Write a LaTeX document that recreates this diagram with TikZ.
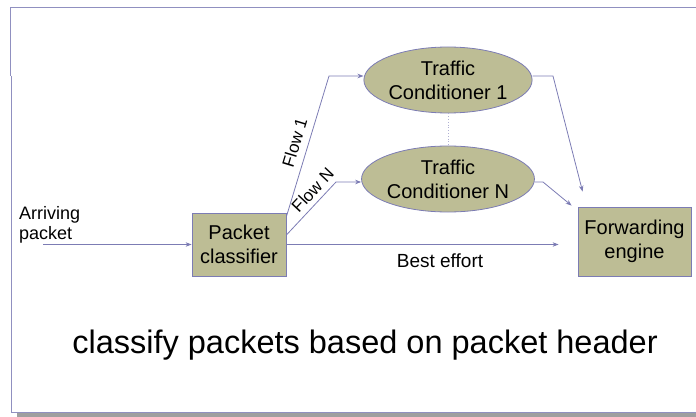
\documentclass[tikz,border=0pt]{standalone}
\usepackage{fontspec}
\setmainfont{Liberation Sans}
\usetikzlibrary{arrows.meta, shapes.geometric}
\definecolor{frame-blue}{HTML}{9090C0}
\definecolor{line-blue}{HTML}{7C7CB4}
\definecolor{box-olive}{HTML}{BDBD95}

\begin{document}
\begin{tikzpicture}[x=1pt, y=-1pt,
        every node/.style={font=\fontsize{20}{24}\selectfont, align=center, inner sep=0pt, text=black},
        block/.style={draw=line-blue, fill=box-olive, thick, minimum width=94pt, minimum height=63pt},
        cond/.style={ellipse, draw=line-blue, fill=box-olive, thick, minimum width=162pt, minimum height=66pt},
        flow/.style={line-blue, thick, -{Stealth[length=6pt, width=4.5pt]}},
        flowlabel/.style={sloped, font=\fontsize{17}{20}\selectfont}]
      \useasboundingbox (0,0) rectangle (696,417);
      % slide frame
      \fill[gray!75] (17,413) rectangle (696,417);
      \draw[frame-blue, thick] (10,76) -- (10,7) -- (696,7);
      \draw[frame-blue, thick] (11,76) -- (11,412) -- (696,412);
      % nodes
      \node[block] (cls) at (239,244.5) {Packet\\classifier};
      \node[block, minimum width=113pt, minimum height=69pt] (fwd) at (634.5,241.5) {Forwarding\\engine};
      \node[cond] (tc1) at (448,80) {Traffic\\Conditioner 1};
      \node[cond] (tcn) at (448,179) {Traffic\\Conditioner N};
      \node[font=\fontsize{18}{20}\selectfont, align=left, anchor=west] (arr) at (19,225) {Arriving\\packet};
      \node[font=\fontsize{19}{23}\selectfont] (best) at (440,261) {Best effort};
      \node[font=\fontsize{32.5}{38}\selectfont] (note) at (365,345) {classify packets based on packet header};
      \coordinate (src) at (43,244.5);
      % connectors
      \draw[flow] (src) -- (cls.west);
      \draw[flow] ([yshift=-4pt]cls.north east) -- (329,76)
            node[midway, above=7pt, flowlabel] {Flow 1}
            -- ([yshift=4pt]tc1.west);
      \draw[flow] ([yshift=9.5pt]cls.east) -- (336,182)
            node[pos=0.7, above=5pt, flowlabel] {Flow N}
            -- ([yshift=-3pt]tcn.west);
      \draw[flow] (cls.east) -- ([xshift=-19pt]fwd.west |- cls.east);
      \draw[flow] ([yshift=4pt]tc1.east) -- (553,76) -- ([xshift=5pt, yshift=15pt]fwd.north west);
      \draw[flow] ([yshift=-3pt]tcn.east) -- (543,182) -- ([xshift=-6pt, yshift=1pt]fwd.north west);
      \draw[line-blue!60, dotted, thick] (tc1.south) -- (tcn.north);
    \end{tikzpicture}
\end{document}
